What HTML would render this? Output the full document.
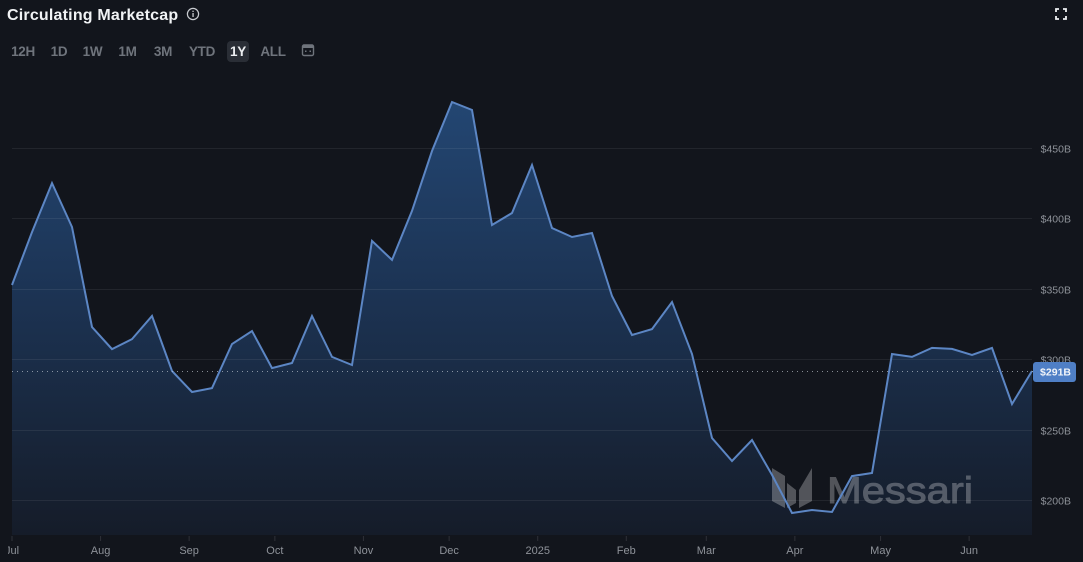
<!DOCTYPE html>
<html lang="en">
<head>
<meta charset="utf-8">
<title>Circulating Marketcap</title>
<style>
html,body{margin:0;padding:0;background:#12151c;}
#page{position:relative;width:1083px;height:562px;overflow:hidden;background:#12151c;font-family:"Liberation Sans",sans-serif;}
#title{position:absolute;left:7px;top:7px;font-size:16px;font-weight:700;color:#f1f3f5;line-height:18px;white-space:nowrap;letter-spacing:.2px;}
.range{position:absolute;top:41px;height:21px;line-height:21px;font-size:13.5px;font-weight:700;color:#6f747c;text-align:center;letter-spacing:-.3px;}
.range.active{background:#2a2e36;color:#eceef1;border-radius:4px;}
svg{position:absolute;left:0;top:0;}
</style>
</head>
<body>
<div id="page">
  <div id="title">Circulating Marketcap</div>
  <svg width="16" height="16" style="left:185px;top:6px" viewBox="0 0 16 16">
    <circle cx="8" cy="8" r="5.6" fill="none" stroke="#c9ccd1" stroke-width="1.2"/>
    <rect x="7.4" y="7" width="1.3" height="4" fill="#c9ccd1"/>
    <rect x="7.4" y="4.7" width="1.3" height="1.3" fill="#c9ccd1"/>
  </svg>
  <div class="range" style="left:8px;width:30px">12H</div>
  <div class="range" style="left:47px;width:24px">1D</div>
  <div class="range" style="left:80px;width:25px">1W</div>
  <div class="range" style="left:115px;width:25px">1M</div>
  <div class="range" style="left:150px;width:26px">3M</div>
  <div class="range" style="left:186px;width:32px">YTD</div>
  <div class="range active" style="left:227px;width:22px">1Y</div>
  <div class="range" style="left:259px;width:28px">ALL</div>
  <svg width="16" height="16" style="left:300px;top:42px" viewBox="0 0 16 16">
    <rect x="2.5" y="3" width="11" height="10.5" rx="1.5" fill="none" stroke="#6f747c" stroke-width="1.4"/>
    <rect x="2.5" y="3" width="11" height="3" fill="#6f747c"/>
    <rect x="5" y="8.5" width="1.5" height="1.5" fill="#6f747c"/>
    <rect x="9.5" y="8.5" width="1.5" height="1.5" fill="#6f747c"/>
  </svg>
  <svg width="14" height="14" style="left:1054px;top:7px" viewBox="0 0 14 14">
    <path d="M2 5V2H5M9 2H12V5M12 9V12H9M5 12H2V9" fill="none" stroke="#eef0f2" stroke-width="1.8"/>
  </svg>
  <svg id="chart" width="1083" height="562" viewBox="0 0 1083 562" style="pointer-events:none">
    <defs>
      <linearGradient id="area-fill" x1="0" y1="102" x2="0" y2="535" gradientUnits="userSpaceOnUse">
        <stop offset="0" stop-color="#234672"/>
        <stop offset="0.45" stop-color="#1c3353"/>
        <stop offset="1" stop-color="#151c29"/>
      </linearGradient>
      <clipPath id="x-label-clip"><rect x="8" y="530" width="1075" height="32"/></clipPath>
    </defs>
  </svg>
</div>
<script>
var startDate = "2024-07-01";
var stepDays = 7;
var marketcapValues = [352.7,390.3,425.1,393.9,322.9,307.2,314.3,330.7,291.6,276.7,279.5,310.8,320,293.7,297.3,330.7,301.6,295.9,384,370.5,405.3,447.9,482.7,477,395.3,403.8,437.9,393.2,386.8,389.6,344.9,317.2,321.4,340.6,303.7,244,227.7,242.6,217.8,190.8,192.9,191.5,217,219.2,303.7,301.6,308,307.3,303,308,268.2,291.6];
var yTickValues = [200,250,300,350,400,450];
var monthTickDates = ["2024-07-01","2024-08-01","2024-09-01","2024-10-01","2024-11-01","2024-12-01","2025-01-01","2025-02-01","2025-03-01","2025-04-01","2025-05-01","2025-06-01"];
var monthTickLabels = ["Jul","Aug","Sep","Oct","Nov","Dec","2025","Feb","Mar","Apr","May","Jun"];
var currentValue = 291;

var NS = "http://www.w3.org/2000/svg";
var svg = document.getElementById("chart");
var DAY = 86400000;
var t0 = Date.parse(startDate);

function xScale(days){ return 12 + days * 20 / 7; }
function yScale(v){ return 148 + (450 - v) * 1.408; }
function make(tag, attrs, parent){
  var el = document.createElementNS(NS, tag);
  for (var k in attrs) el.setAttribute(k, attrs[k]);
  (parent || svg).appendChild(el);
  return el;
}

var lastX = xScale((marketcapValues.length - 1) * stepDays);
var bottom = 535;
var pts = marketcapValues.map(function(v, i){
  return xScale(i * stepDays).toFixed(1) + "," + yScale(v).toFixed(1);
});

var area = make("polygon", {points: xScale(0) + "," + bottom + " " + pts.join(" ") + " " + lastX + "," + bottom, fill: "url(#area-fill)"});



yTickValues.forEach(function(v){
  var y = Math.round(yScale(v)) + 0.5;
  var grid = make("line", {x1: 12, x2: lastX, y1: y, y2: y, stroke: "#ffffff", "stroke-opacity": "0.07", "stroke-width": 1});
  
  
  var label = make("text", {x: 1071, y: y + 4, "text-anchor": "end", "font-size": "10.5", fill: "#8e9299", "font-family": "Liberation Sans, sans-serif"});
  label.textContent = "$" + v + "B";
  
  
});

monthTickDates.forEach(function(d, i){
  var x = xScale((Date.parse(d) - t0) / DAY);
  var tick = make("line", {x1: x, x2: x, y1: 536, y2: 541, stroke: "#ffffff", "stroke-opacity": "0.12", "stroke-width": 1});
  
  
  var label = make("text", {x: x, y: 554, "text-anchor": "middle", "font-size": "11", fill: "#8e9299", "font-family": "Liberation Sans, sans-serif", "clip-path": "url(#x-label-clip)"});
  label.textContent = monthTickLabels[i];
  
  
});

var logo = make("g", {opacity: "0.27", fill: "#ffffff", stroke: "none"});


make("polygon", {points: "772,468 785,476 785,508 772,501"}, logo);
make("polygon", {points: "787,483 796,490 796,503 787,508"}, logo);
make("polygon", {points: "799,490 812,468 812,501 799,508"}, logo);
var wordmark = make("text", {x: 827, y: 503, "font-size": "37", stroke: "#ffffff", "stroke-width": "0.9", "font-family": "Liberation Sans, sans-serif", textLength: "146", lengthAdjust: "spacingAndGlyphs"}, logo);
wordmark.textContent = "Messari";

var line = make("polyline", {points: pts.join(" "), fill: "none", stroke: "#5c86c4", "stroke-width": 2, "stroke-linejoin": "miter"});



var curY = Math.round(yScale(marketcapValues[marketcapValues.length - 1])) + 0.5;
var dotted = make("line", {x1: 12, x2: 1034, y1: curY, y2: curY, stroke: "#c5ccd6", "stroke-opacity": "0.65", "stroke-width": 1, "stroke-dasharray": "1 4"});



var badge = make("rect", {x: 1033, y: curY - 9.5, width: 43, height: 20, rx: 3, fill: "#4f7fc6"});


var badgeText = make("text", {x: 1071, y: curY + 4, "text-anchor": "end", "font-size": "10.5", "font-weight": "700", fill: "#f2f5f9", "font-family": "Liberation Sans, sans-serif"});
badgeText.textContent = "$" + currentValue + "B";


</script>
</body>
</html>
